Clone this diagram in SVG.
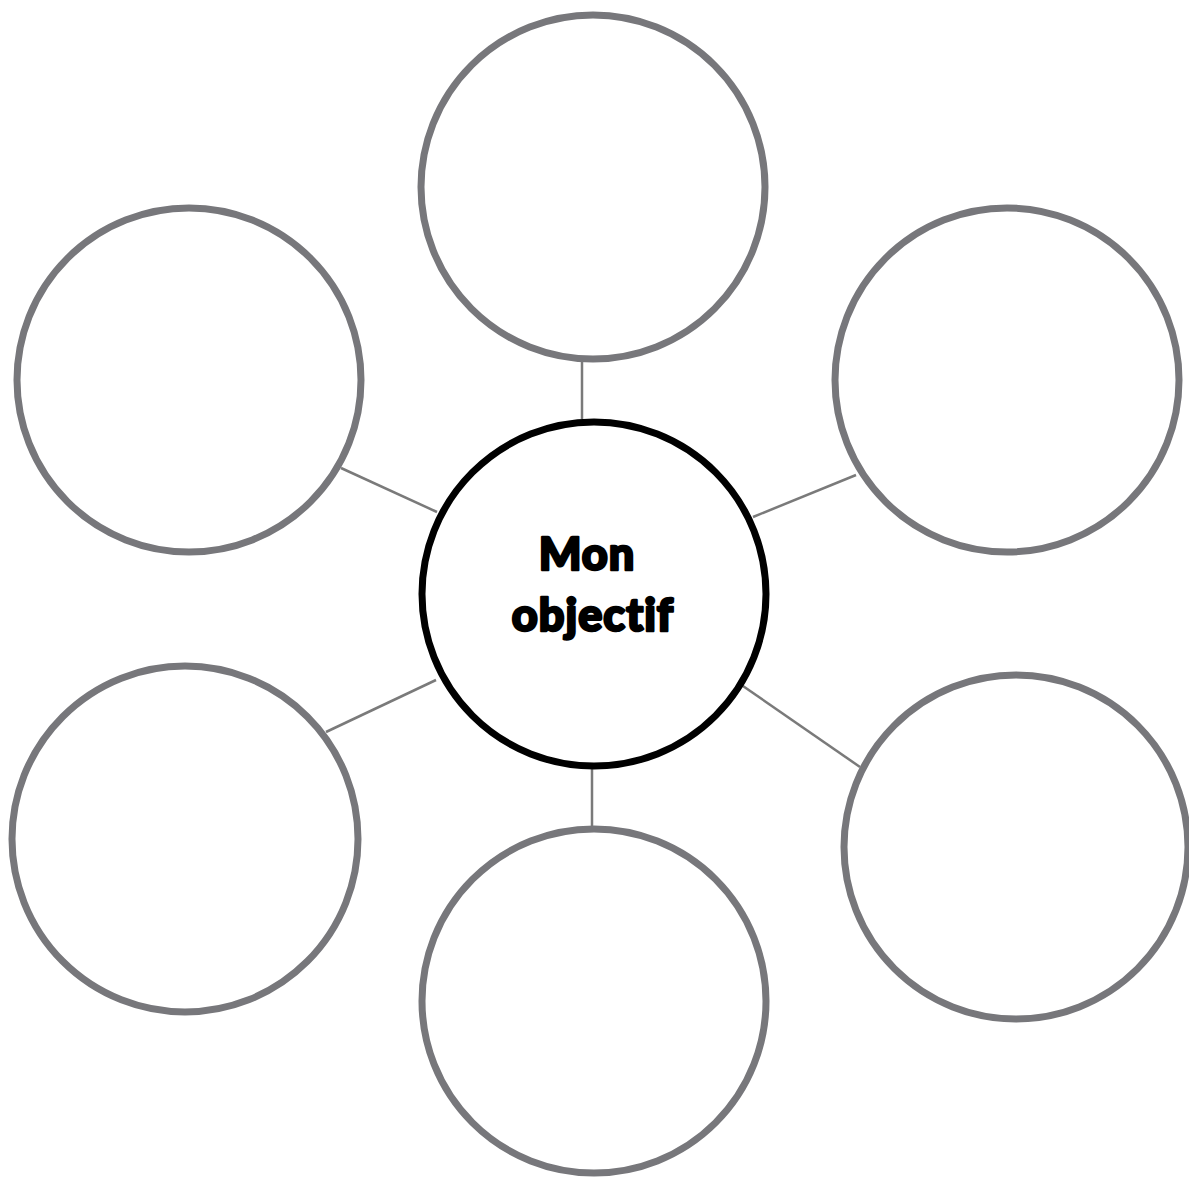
<svg xmlns="http://www.w3.org/2000/svg" width="1189" height="1179" viewBox="0 0 1189 1179">
<style>
.outer{fill:none;stroke:#77777b;stroke-width:7}
.main{fill:none;stroke:#000;stroke-width:7}
.link{stroke:#7a7a7a;stroke-width:2.5;fill:none}
.lbl{font-family:Lato,"Liberation Sans",sans-serif;font-weight:900;font-size:45px;fill:#000;stroke:#000;stroke-width:2.5;stroke-linejoin:round;text-anchor:middle;font-variant-ligatures:none;letter-spacing:1px}
</style>
<rect width="1189" height="1179" fill="#fff"/>
<g id="connectors">
<line class="link" x1="582" y1="362" x2="582" y2="419"/>
<line class="link" x1="341" y1="468" x2="437" y2="512"/>
<line class="link" x1="753" y1="517" x2="856" y2="475"/>
<line class="link" x1="326" y1="732" x2="436" y2="680"/>
<line class="link" x1="740" y1="684" x2="860" y2="767"/>
<line class="link" x1="592" y1="768" x2="592" y2="828"/>
</g>
<g id="node-top"><circle class="outer" cx="593" cy="187" r="172"/></g>
<g id="node-top-left"><circle class="outer" cx="189" cy="380" r="172"/></g>
<g id="node-top-right"><circle class="outer" cx="1007" cy="380" r="172"/></g>
<g id="node-bottom-left"><circle class="outer" cx="185" cy="839" r="173"/></g>
<g id="node-bottom-right"><circle class="outer" cx="1016" cy="847" r="172"/></g>
<g id="node-bottom"><circle class="outer" cx="594" cy="1001" r="172"/></g>
<g id="node-center">
<circle class="main" cx="594" cy="594" r="172"/>
<text class="lbl" x="587" y="570">Mon</text>
<text class="lbl" x="593" y="631">objectif</text>
</g>
</svg>
